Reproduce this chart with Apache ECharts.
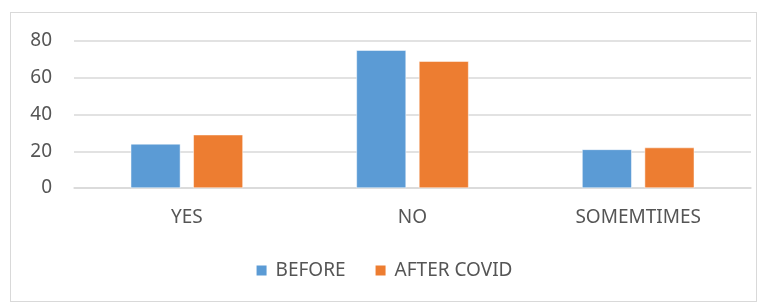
<!DOCTYPE html>
<html>
<head>
<meta charset="utf-8">
<script src="https://cdn.jsdelivr.net/npm/echarts@6/dist/echarts.min.js"></script>
<style>
  html, body { margin: 0; padding: 0; background: #fff; }
  #frame { position: absolute; left: 10px; top: 12px; width: 745px; height: 288px; border: 1px solid #d9d9d9; }
  #chart { position: absolute; left: 0; top: 0; width: 767px; height: 302px; }
</style>
</head>
<body>
<div id="frame"></div>
<div id="chart"></div>
<script>
// data
const categories = ['YES', 'NO', 'SOMEMTIMES']
const before = [24, 75, 21]
const afterCovid = [29, 69, 22]

const textColor = '#555555'
const font = 'Noto Sans'

const chart = echarts.init(document.getElementById('chart'))
chart.setOption({
  animation: false,
  grid: { left: 74, right: 16, top: 41, bottom: 114 },
  legend: {
    bottom: 17,
    left: 'center',
    icon: 'rect',
    itemWidth: 12,
    itemHeight: 12,
    itemGap: 28,
    textStyle: { color: textColor, fontSize: 19, fontFamily: font, padding: [0, 0, 0, 3] }
  },
  xAxis: {
    type: 'category',
    data: categories,
    axisLine: { lineStyle: { color: '#d9d9d9', width: 1.5 } },
    axisTick: { show: false },
    axisLabel: { color: textColor, fontSize: 19, fontFamily: font, margin: 20 }
  },
  yAxis: {
    type: 'value',
    min: 0,
    max: 80,
    interval: 20,
    axisLine: { show: false },
    axisTick: { show: false },
    splitLine: { lineStyle: { color: '#d9d9d9', width: 1.5 } },
    axisLabel: { color: textColor, fontSize: 19, fontFamily: font, margin: 22 }
  },
  series: [
    {
      name: 'BEFORE',
      type: 'bar',
      data: before,
      barWidth: '22%',
      barGap: '26%',
      itemStyle: { color: '#5B9BD5', borderColor: '#ffffff', borderWidth: 0.5 }
    },
    {
      name: 'AFTER COVID',
      type: 'bar',
      data: afterCovid,
      barWidth: '22%',
      itemStyle: { color: '#ED7D31', borderColor: '#ffffff', borderWidth: 0.5 }
    }
  ]
})
</script>
</body>
</html>
